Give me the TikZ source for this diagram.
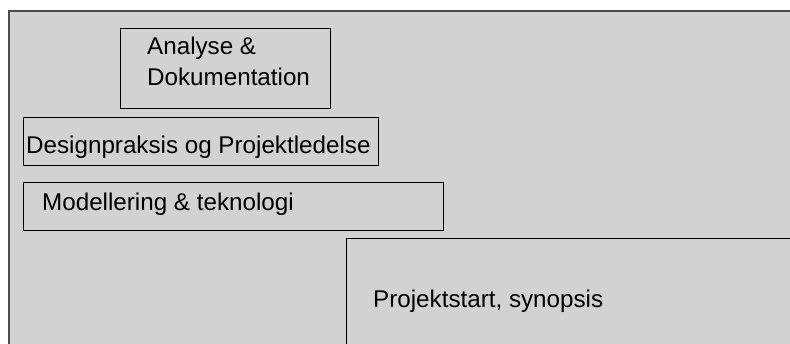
\documentclass[tikz,border=0pt]{standalone}
\usepackage{fontspec}
\setmainfont{Liberation Sans}
\definecolor{panelgray}{HTML}{D2D2D2}
\tikzset{
  box/.style={draw=black, line width=0.8pt, fill=panelgray},
  lbl/.style={inner sep=0pt, font=\fontsize{24.2}{30.5}\selectfont, align=left}
}
\begin{document}
\begin{tikzpicture}[x=1pt,y=-1pt]
\useasboundingbox (0,0) rectangle (790,343);
\clip (0,0) rectangle (790,343);

\draw[line width=1.2pt, draw=black!70, fill=panelgray] (9,11) rectangle (820,380);

\draw[box] (120,28) rectangle (330,108);
\node[lbl, anchor=north west] (analyse) at (147,37) {Analyse \&\\Dokumentation};

\draw[box] (23,117) rectangle (378,165);
\node[lbl, anchor=base west] (design) at (26,153) {Designpraksis og Projektledelse};

\draw[box] (23,182) rectangle (443,230);
\node[lbl, anchor=base west] (model) at (42,210) {Modellering \& teknologi};

\draw[box] (346,238) rectangle (820,380);
\node[lbl, anchor=base west] (start) at (373,307) {Projektstart, synopsis};

\end{tikzpicture}
\end{document}
